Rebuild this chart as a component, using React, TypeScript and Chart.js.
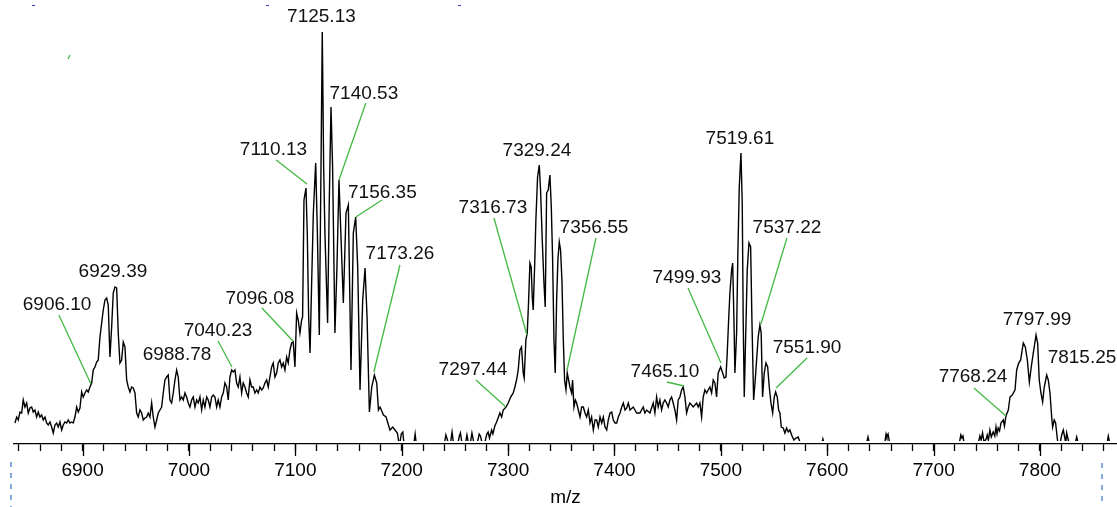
import React, { useEffect, useRef } from 'react';
import { Chart, registerables } from 'chart.js';

Chart.register(...registerables);

// ---- axis range & ticks (m/z) ----
const axisMin = 6835.5;
const axisMax = 7872.4;
const minorStep = 20;
const majorStep = 100;
const axisTitle = 'm/z';

// ---- spectrum, [m/z, intensity] pairs ----
const cluster6930: [number, number][] = [
  [6836.4, 21], [6838.0, 27], [6839.5, 24], [6841.1, 32], [6842.7, 31], [6844.2, 44], [6845.8, 37], [6847.4, 41],
  [6848.9, 31], [6850.5, 36], [6852.1, 37], [6853.6, 32], [6855.2, 34], [6856.8, 27], [6858.3, 32], [6859.9, 27],
  [6861.5, 29], [6863.0, 24], [6864.6, 27], [6866.2, 21], [6867.7, 19], [6869.3, 22], [6870.9, 17], [6872.4, 11],
  [6874.0, 19], [6875.6, 21], [6877.1, 17], [6878.7, 22], [6880.3, 14], [6881.8, 19], [6883.4, 22], [6885.0, 21],
  [6886.5, 24], [6888.1, 21], [6889.7, 22], [6891.2, 21], [6892.8, 27], [6894.4, 37], [6895.9, 32], [6897.5, 36],
  [6899.1, 52], [6900.6, 47], [6902.2, 51], [6903.8, 54], [6905.3, 52], [6906.9, 57], [6908.5, 61], [6910.0, 74],
  [6911.6, 77], [6913.2, 82], [6914.7, 84], [6916.3, 107], [6917.9, 121], [6919.4, 134], [6921.0, 144], [6922.6, 146],
  [6924.1, 139], [6925.7, 87], [6927.3, 117], [6928.8, 151], [6930.4, 157], [6932.0, 156], [6933.5, 111], [6935.1, 81],
  [6936.7, 84], [6938.2, 102], [6939.8, 97], [6941.4, 64], [6942.9, 57], [6944.5, 52], [6946.1, 57], [6947.6, 56],
  [6949.2, 51], [6950.8, 31], [6952.3, 27], [6953.9, 34], [6955.5, 31], [6957.0, 24], [6958.6, 26], [6960.2, 27],
];

const cluster7000: [number, number][] = [
  [6961.7, 31], [6963.3, 27], [6964.9, 41], [6966.4, 27], [6968.0, 17], [6969.6, 24], [6971.1, 31], [6972.7, 34],
  [6974.3, 37], [6975.8, 51], [6977.4, 64], [6979.0, 67], [6980.5, 69], [6982.1, 44], [6983.7, 41], [6985.2, 51],
  [6986.8, 64], [6988.4, 74], [6989.9, 67], [6991.5, 44], [6993.1, 47], [6994.6, 44], [6996.2, 51], [6997.8, 47],
  [6999.3, 41], [7000.9, 37], [7002.5, 44], [7004.0, 47], [7005.6, 37], [7007.2, 44], [7008.7, 41], [7010.3, 47],
  [7011.9, 34], [7013.4, 44], [7015.0, 37], [7016.6, 47], [7018.1, 44], [7019.7, 37], [7021.3, 47], [7022.8, 49],
  [7024.4, 47], [7026.0, 37], [7027.5, 44], [7029.1, 37], [7030.7, 47], [7032.2, 51], [7033.8, 61], [7035.4, 57],
  [7036.9, 44], [7038.5, 67], [7040.1, 74], [7041.6, 72], [7043.2, 74], [7044.8, 61], [7046.3, 57], [7047.9, 67],
  [7049.5, 51], [7051.0, 61], [7052.6, 57], [7054.2, 51], [7055.7, 47], [7057.3, 64], [7058.9, 57], [7060.4, 57],
  [7062.0, 51], [7063.6, 54], [7065.1, 51], [7066.7, 57], [7068.3, 54], [7069.8, 56], [7071.4, 61], [7073.0, 64],
  [7074.5, 57], [7076.1, 67], [7077.7, 77], [7079.2, 81], [7080.8, 67], [7082.4, 71], [7083.9, 81], [7085.5, 84],
  [7087.1, 77], [7088.6, 81], [7090.2, 74], [7091.8, 87], [7093.3, 81], [7094.9, 94], [7096.5, 101], [7098.0, 102],
  [7099.6, 77], [7101.2, 131], [7102.7, 124],
];

const cluster7125: [number, number][] = [
  [7104.3, 111], [7105.9, 124], [7106.8, 127], [7108.1, 244], [7110.0, 256], [7111.2, 211], [7112.5, 127], [7113.8, 91],
  [7115.3, 161], [7116.9, 231], [7119.1, 281], [7120.7, 211], [7122.5, 109], [7124.1, 277], [7125.3, 412], [7126.6, 277],
  [7127.8, 211], [7130.3, 121], [7131.9, 244], [7133.5, 337], [7135.0, 277], [7137.2, 111], [7139.1, 177], [7141.0, 264],
  [7142.9, 207], [7145.1, 141], [7147.6, 231], [7149.8, 239], [7152.3, 74], [7154.5, 211], [7156.7, 227], [7158.6, 177],
  [7160.8, 54], [7163.3, 144], [7165.5, 176], [7167.4, 127], [7169.6, 32], [7171.8, 57], [7174.3, 69], [7176.5, 61],
  [7178.1, 34], [7179.6, 37], [7182.8, 29], [7185.3, 27], [7187.5, 19], [7189.0, 14], [7191.5, 17], [7193.7, 14],
  [7195.9, 11], [7197.8, -2],
];

const valley7250: [number, number][] = [
  [7199.6, 10], [7201.0, 12], [7202.5, -4], [7211.0, -3], [7212.6, 10], [7214.0, -3], [7222.0, -10], [7232.0, -10],
  [7239.5, -3], [7241.5, 9], [7243.0, 4], [7244.5, -3], [7246.0, 2], [7247.3, 12], [7249.0, -2], [7252.0, -3],
  [7254.2, 8], [7255.2, 11], [7257.0, -2], [7259.5, -2], [7261.3, 9], [7263.0, -1], [7264.5, 1], [7266.0, 11],
  [7268.0, 0], [7270.5, -2], [7272.8, 10], [7274.0, 8], [7276.0, -1], [7278.0, 1], [7280.0, 10], [7281.2, 12],
  [7282.5, 6], [7284.5, 14], [7285.7, 10], [7287.5, 18],
];

const cluster7330: [number, number][] = [
  [7289.2, 22], [7292.3, 31], [7293.9, 27], [7295.4, 34], [7298.0, 37], [7300.1, 41], [7302.4, 47], [7304.8, 51],
  [7306.4, 57], [7307.9, 64], [7309.5, 74], [7311.1, 94], [7312.6, 97], [7314.2, 71], [7315.1, 66], [7316.7, 104],
  [7318.0, 111], [7319.2, 141], [7320.5, 181], [7321.7, 177], [7322.7, 147], [7323.6, 134], [7325.2, 187], [7326.1, 224],
  [7327.7, 267], [7329.3, 279], [7330.5, 254], [7332.1, 204], [7333.7, 161], [7334.9, 137], [7336.2, 251], [7337.7, 254],
  [7339.3, 269], [7340.6, 237], [7341.8, 187], [7343.1, 104], [7344.3, 71], [7345.6, 144], [7346.8, 184], [7348.1, 202],
  [7349.3, 194], [7350.6, 164], [7351.9, 104], [7353.1, 64], [7354.4, 54], [7355.6, 71], [7356.9, 64], [7358.1, 57],
  [7359.7, 51], [7360.6, 64], [7361.9, 37], [7363.2, 44], [7364.4, 41], [7366.0, 34], [7367.6, 27], [7369.1, 37],
  [7370.7, 37], [7372.3, 31], [7373.8, 27], [7375.4, 34], [7377.0, 21], [7378.5, 27], [7380.1, 14], [7381.7, 24],
  [7383.2, 24], [7384.8, 17], [7386.4, 27], [7388.0, 21], [7389.5, 27], [7391.1, 17], [7392.7, 14], [7394.2, 24],
  [7395.8, 31], [7397.4, 32], [7398.9, 24], [7400.5, 21], [7402.1, 21], [7403.6, 27], [7405.2, 31], [7406.8, 37],
  [7408.3, 41], [7409.9, 34], [7411.5, 36], [7413.0, 41], [7414.6, 34], [7417.7, 37],
];

const cluster7520: [number, number][] = [
  [7420.8, 31], [7423.9, 31], [7427.0, 37], [7428.6, 31], [7430.2, 34], [7433.3, 31], [7436.4, 41], [7438.0, 31],
  [7439.6, 47], [7441.1, 37], [7442.7, 44], [7444.3, 34], [7445.8, 41], [7447.4, 44], [7449.0, 41], [7450.5, 37],
  [7452.1, 44], [7453.7, 47], [7455.2, 41], [7456.8, 34], [7458.4, 24], [7459.9, 44], [7461.5, 47], [7463.1, 54],
  [7464.6, 57], [7466.2, 47], [7467.8, 31], [7469.3, 37], [7470.9, 41], [7474.0, 37], [7477.2, 41], [7478.7, 37],
  [7480.3, 41], [7481.9, 27], [7483.4, 47], [7485.0, 54], [7486.6, 51], [7488.1, 54], [7489.7, 57], [7491.3, 51],
  [7492.8, 64], [7494.4, 61], [7496.0, 47], [7497.5, 71], [7499.8, 77], [7501.7, 71], [7503.2, 66], [7504.8, 67],
  [7506.0, 91], [7507.3, 124], [7508.5, 151], [7510.1, 174], [7511.1, 181], [7512.3, 124], [7513.2, 71], [7514.8, 111],
  [7516.0, 191], [7517.3, 257], [7518.9, 291], [7520.1, 241], [7521.0, 124], [7522.0, 47], [7523.3, 107], [7524.8, 174],
  [7526.4, 201], [7528.0, 197], [7529.2, 124], [7530.8, 44], [7532.3, 64], [7533.6, 84], [7535.1, 107], [7536.7, 119],
  [7537.9, 111], [7539.2, 47], [7540.8, 71], [7542.4, 81], [7544.0, 77], [7545.5, 57], [7547.1, 41], [7548.7, 31],
  [7550.2, 47], [7551.5, 52], [7553.0, 47], [7554.3, 34], [7555.5, 31], [7556.8, 17], [7558.6, 16], [7560.2, 11],
  [7561.8, 16], [7563.3, 12], [7564.9, 14], [7566.5, 9], [7568.7, 4], [7570.6, 6], [7572.7, 7], [7574.3, 2],
];

const valley7650: [number, number][] = [
  [7576.5, -4], [7585.0, -10], [7594.5, -1], [7595.9, 5], [7597.3, -1], [7610.0, -10], [7625.0, -10], [7636.8, 0],
  [7638.3, 7], [7639.8, 0], [7650.0, -6], [7654.0, 1], [7655.3, 10], [7656.1, 7], [7657.2, 10], [7658.8, 0],
  [7670.0, -10], [7690.0, -10], [7710.0, -10], [7724.0, 0], [7725.6, 9], [7726.6, 6], [7727.6, 8], [7729.0, -1],
  [7738.0, -4], [7742.0, 1], [7743.5, 8], [7744.7, 4], [7746.0, 11], [7747.4, 2],
];

const cluster7800: [number, number][] = [
  [7749.5, 5], [7750.4, 9], [7751.5, 4], [7752.9, 14], [7754.2, 7], [7756.0, 12], [7757.5, 8], [7758.6, 17],
  [7759.6, 10], [7760.7, 16], [7762.0, 13], [7763.3, 21], [7765.5, 24], [7766.6, 18], [7768.0, 28], [7770.2, 34],
  [7771.8, 47], [7773.9, 49], [7776.5, 54], [7778.1, 74], [7780.0, 81], [7781.8, 84], [7784.3, 101], [7786.2, 97],
  [7788.1, 84], [7790.0, 62], [7791.8, 77], [7793.7, 91], [7796.3, 109], [7797.8, 101], [7799.3, 64], [7800.9, 51],
  [7802.5, 42], [7804.0, 57], [7806.3, 69], [7807.8, 64], [7809.4, 51], [7811.0, 27], [7811.9, 17], [7813.4, 24],
  [7814.7, 21], [7815.7, 11], [7816.9, 0], [7819.0, 1], [7820.4, 9], [7821.9, 14], [7823.2, 7], [7824.2, 1],
  [7825.1, 11], [7826.6, 4], [7828.0, -3], [7833.0, 0], [7834.5, 7], [7836.0, 0], [7845.0, -10], [7858.0, -6],
  [7863.0, 0], [7864.2, 8], [7865.8, 0], [7872.4, -10],
];

// ---- peak labels: text, label centre [m/z, intensity], optional leader from -> to ----
type Note = { text: string; at: [number, number]; from?: [number, number]; to?: [number, number] };
const peakNotes: Note[] = [
  { text: '6906.10', at: [6876.0, 139], from: [6877.7, 129], to: [6907.8, 60] },
  { text: '6929.39', at: [6928.5, 172] },
  { text: '6988.78', at: [6988.7, 89] },
  { text: '7040.23', at: [7027.3, 113], from: [7027.3, 103], to: [7040.4, 77] },
  { text: '7096.08', at: [7066.7, 145], from: [7068.6, 136], to: [7097.7, 103] },
  { text: '7110.13', at: [7079.4, 294], from: [7082.0, 284], to: [7110.9, 260] },
  { text: '7125.13', at: [7124.5, 427] },
  { text: '7140.53', at: [7164.4, 350], from: [7166.3, 341], to: [7141.0, 264] },
  { text: '7156.35', at: [7181.8, 251], from: [7181.4, 244], to: [7156.9, 227] },
  { text: '7173.26', at: [7198.3, 190], from: [7198.3, 179], to: [7173.8, 72] },
  { text: '7297.44', at: [7266.9, 74], from: [7269.7, 64], to: [7298.0, 37] },
  { text: '7316.73', at: [7285.7, 236], from: [7286.7, 226], to: [7317.7, 109] },
  { text: '7329.24', at: [7327.1, 293] },
  { text: '7356.55', at: [7380.7, 216], from: [7382.6, 206], to: [7355.4, 74] },
  { text: '7465.10', at: [7447.4, 72], from: [7449.3, 62], to: [7465.3, 58] },
  { text: '7499.93', at: [7468.1, 166], from: [7469.1, 156], to: [7500.1, 81] },
  { text: '7519.61', at: [7517.9, 305] },
  { text: '7537.22', at: [7562.1, 216], from: [7562.1, 206], to: [7537.7, 120] },
  { text: '7551.90', at: [7581.0, 96], from: [7581.0, 86], to: [7551.9, 56] },
  { text: '7768.24', at: [7737.0, 67], from: [7737.9, 56], to: [7768.0, 28] },
  { text: '7797.99', at: [7797.2, 124] },
  { text: '7815.25', at: [7839.5, 86] },
];

const FONT = '"Liberation Sans", Arial, Helvetica, sans-serif';

const notesPlugin = {
  id: 'peakNotes',
  afterDatasetsDraw(chart: any) {
    const { ctx, scales } = chart;
    const x = scales.x;
    const y = scales.y;
    ctx.save();
    ctx.strokeStyle = '#43b843';
    ctx.lineWidth = 1.3;
    for (const n of peakNotes) {
      if (!n.from || !n.to) continue;
      ctx.beginPath();
      ctx.moveTo(x.getPixelForValue(n.from[0]), y.getPixelForValue(n.from[1]));
      ctx.lineTo(x.getPixelForValue(n.to[0]), y.getPixelForValue(n.to[1]));
      ctx.stroke();
    }
    ctx.fillStyle = '#111';
    ctx.font = `19px ${FONT}`;
    ctx.textAlign = 'center';
    ctx.textBaseline = 'middle';
    for (const n of peakNotes) {
      ctx.fillText(n.text, x.getPixelForValue(n.at[0]), y.getPixelForValue(n.at[1]));
    }
    ctx.restore();
  },
  afterDraw(chart: any) {
    const { ctx, scales } = chart;
    const x = scales.x;
    ctx.save();
    // longer marks for the major ticks
    ctx.strokeStyle = '#000';
    ctx.lineWidth = 1.3;
    for (const t of x.ticks) {
      if (Math.round(t.value) % majorStep === 0) {
        const px = Math.round(x.getPixelForValue(t.value)) + 0.5;
        ctx.beginPath();
        ctx.moveTo(px, x.top);
        ctx.lineTo(px, x.top + 12);
        ctx.stroke();
      }
    }
    // dashed crop guides and stray marks of the original capture
    ctx.strokeStyle = '#5b8fd2';
    ctx.lineWidth = 1.5;
    ctx.setLineDash([5, 6]);
    ctx.beginPath();
    ctx.moveTo(11, 462);
    ctx.lineTo(11, 507);
    ctx.moveTo(1102, 463);
    ctx.lineTo(1102, 507);
    ctx.stroke();
    ctx.setLineDash([]);
    ctx.strokeStyle = '#2a3cae';
    ctx.lineWidth = 1;
    ctx.beginPath();
    for (const sx of [32, 266, 458]) {
      ctx.moveTo(sx, 5.5);
      ctx.lineTo(sx + 3, 5.5);
    }
    ctx.stroke();
    ctx.strokeStyle = '#43b843';
    ctx.lineWidth = 1.2;
    ctx.beginPath();
    ctx.moveTo(68, 59);
    ctx.lineTo(70, 55);
    ctx.stroke();
    ctx.restore();
  },
};

export default function App() {
  const canvasRef = useRef<HTMLCanvasElement | null>(null);

  useEffect(() => {
    const canvas = canvasRef.current;
    if (!canvas) return;
    const spectrum = [
      ...cluster6930, ...cluster7000, ...cluster7125, ...valley7250,
      ...cluster7330, ...cluster7520, ...valley7650, ...cluster7800,
    ].map(([mz, v]) => ({ x: mz, y: v }));

    Chart.defaults.font.family = FONT;
    const chart = new Chart(canvas, {
      type: 'line',
      data: {
        datasets: [
          {
            data: spectrum,
            borderColor: '#000',
            borderWidth: 1.4,
            pointRadius: 0,
            tension: 0,
            fill: false,
            clip: { left: 0, top: 5, right: 0, bottom: -3 } as any,
          },
        ],
      },
      options: {
        animation: false,
        responsive: false,
        devicePixelRatio: 1,
        layout: { padding: { left: 14, right: 0, top: 0, bottom: 0 } },
        plugins: { legend: { display: false }, tooltip: { enabled: false } },
        scales: {
          x: {
            type: 'linear',
            min: axisMin,
            max: axisMax,
            afterFit: (s: any) => {
              s.height = 63;
            },
            grid: { drawOnChartArea: false, drawTicks: true, tickLength: 7, tickWidth: 1.3, tickColor: '#000' },
            border: { display: true, color: '#000', width: 1.3 },
            ticks: {
              stepSize: minorStep,
              autoSkip: false,
              maxRotation: 0,
              includeBounds: false,
              padding: 8,
              color: '#000',
              font: { size: 19, family: FONT },
              callback: (v: any) => (Math.round(Number(v)) % majorStep === 0 ? String(Math.round(Number(v))) : ''),
            },
            title: {
              display: true,
              text: axisTitle,
              color: '#000',
              font: { size: 19, family: FONT },
              padding: { top: 0, bottom: -2 },
            },
          },
          y: { display: false, min: 0, max: 444 },
        },
      },
      plugins: [notesPlugin],
    });
    return () => chart.destroy();
  }, []);

  return (
    <div style={{ position: 'fixed', left: 0, top: 0, width: 1117, height: 507, background: '#fff' }}>
      <canvas ref={canvasRef} width={1117} height={507} style={{ display: 'block' }} />
    </div>
  );
}
